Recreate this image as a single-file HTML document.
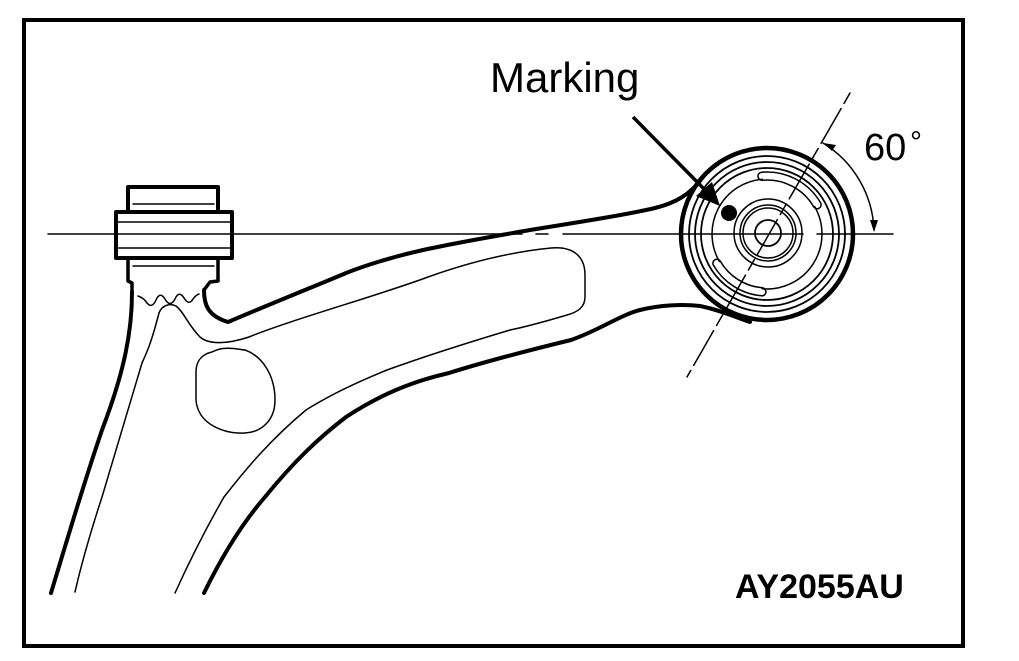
<!DOCTYPE html>
<html><head><meta charset="utf-8"><style>
html,body{margin:0;padding:0;background:#fff;}
svg{display:block;}
</style></head><body>
<svg width="1019" height="661" viewBox="0 0 1019 661" xmlns="http://www.w3.org/2000/svg">
<rect x="0" y="0" width="1019" height="661" fill="#fff"/>
<rect x="24" y="20" width="939" height="626" fill="none" stroke="#000" stroke-width="4"/>

<g fill="none" stroke="#000" stroke-linecap="round" stroke-linejoin="round">
<line x1="48" y1="234" x2="522" y2="234" stroke-width="1.5"/>
<line x1="536" y1="234" x2="548" y2="234" stroke-width="1.5"/>
<line x1="563" y1="234" x2="803" y2="234" stroke-width="1.5"/>
<line x1="817" y1="234" x2="893" y2="234" stroke-width="1.5"/>

<path d="M128,212 L128,187 L218,187 L218,212" stroke-width="4"/>
<rect x="116" y="212" width="116" height="46" stroke-width="4"/>
<line x1="118" y1="222" x2="230" y2="222" stroke-width="1.5"/>
<line x1="118" y1="248" x2="230" y2="248" stroke-width="1.5"/>
<line x1="133" y1="204" x2="214" y2="204" stroke-width="1.5"/>
<line x1="133" y1="266" x2="214" y2="266" stroke-width="1.5"/>
<path d="M128,258 L128,281 L132,283 L132,292" stroke-width="3.5"/>
<path d="M218,258 L218,281 L210,282 L204,290" stroke-width="3.5"/>
<path d="M138,296 q6,2 9,7 q5,6 9,-3 q4,-9 9,-1 q5,9 10,0 q4,-9 9,-1 q5,8 9,1 q3,-4 6,-5" stroke-width="1.5"/>

<path d="M204,290 C204,305 208,316 228,322 C280,300 330,280 346,273 C400,252 450,244 530,230 C580,222 630,214 655,208 C675,203 690,195 703,177" stroke-width="4"/>
<path d="M132,292 C132,330 125,370 102,430 C85,480 70,530 51,593" stroke-width="4"/>
<path d="M159,313 C152,340 148,350 142,363 C125,420 110,470 102,497 C88,540 80,570 75,592" stroke-width="1.5"/>
<path d="M159,313 C162,305 170,303 176,306 C184,312 188,325 200,337 C208,344 225,345 249,337 C290,320 380,295 428,277 C470,262 510,252 551,248 C575,246 585,258 585,275 L585,297 C585,307 578,312 567,315 C540,323 520,328 510,330 C460,345 420,358 387,370 C350,385 325,398 306,410 C270,440 245,470 224,497 C205,530 190,560 175,593" stroke-width="1.5"/>
<path d="M204,593 C225,550 245,520 265,497 C295,460 320,437 346,417 C380,395 410,382 449,373 C490,360 530,350 571,340 C600,330 620,315 640,310 C660,305 683,304 700,306 C720,310 735,317 750,322" stroke-width="4"/>
<path d="M212,352 C225,345 240,350 245,350 C262,356 275,375 275,400 C275,420 262,432 245,433 C225,434 198,425 196,400 L196,372 C196,360 203,354 212,352 Z" stroke-width="1.5"/>

<circle cx="767" cy="234" r="86" stroke-width="4.5"/>
<circle cx="767" cy="234" r="78" stroke-width="1.8"/>
<circle cx="767" cy="234" r="72" stroke-width="1.8"/>
<circle cx="767" cy="234" r="66" stroke-width="1.8"/>
<circle cx="768" cy="233" r="34" stroke-width="1.5"/>
<circle cx="768" cy="233" r="28" stroke-width="1.5"/>
<circle cx="768" cy="233" r="25" stroke-width="1.5"/>
<circle cx="768" cy="233" r="13" stroke-width="1.8"/>
<path d="M761.6,172.2 A62,62 0 0 1 820.7,203 A4,4 0 0 1 813.8,207 A54,54 0 0 0 762.3,180.2 A4,4 0 0 1 761.6,172.2 Z" stroke-width="1.5"/>
<path d="M761.6,295.8 A62,62 0 0 1 713.3,265 A4,4 0 0 1 720.2,261 A54,54 0 0 0 762.3,287.8 A4,4 0 0 1 761.6,295.8 Z" stroke-width="1.5"/>
<path d="M814.6,206.5 A55,55 0 0 1 762.2,288.8" stroke-width="1.5"/>
<path d="M719.4,261.5 A55,55 0 0 1 762.2,179.2" stroke-width="1.5"/>

<line x1="850" y1="93" x2="687" y2="377" stroke-width="1.5" stroke-dasharray="12,6,40,6"/>
<path d="M823,143 A107,107 0 0 1 874,230" stroke-width="1.5"/>
</g>
<polygon points="823,143 836,145 832,151" fill="#000"/>
<polygon points="874,232 870,220 878,220" fill="#000"/>

<line x1="633" y1="117" x2="708" y2="193" stroke="#000" stroke-width="3.5"/>
<polygon points="720,206 696,196 712,182" fill="#000"/>
<circle cx="729" cy="213" r="8" fill="#000"/>

<text x="490" y="92" font-family="Liberation Sans, sans-serif" font-size="42" fill="#000">Marking</text>
<text x="864" y="160" font-family="Liberation Sans, sans-serif" font-size="38" fill="#000">60</text>
<text x="910" y="152" font-family="Liberation Sans, sans-serif" font-size="30" fill="#000">°</text>
<text x="735" y="598" font-family="Liberation Sans, sans-serif" font-size="34" font-weight="bold" fill="#000">AY2055AU</text>
</svg>
</body></html>
